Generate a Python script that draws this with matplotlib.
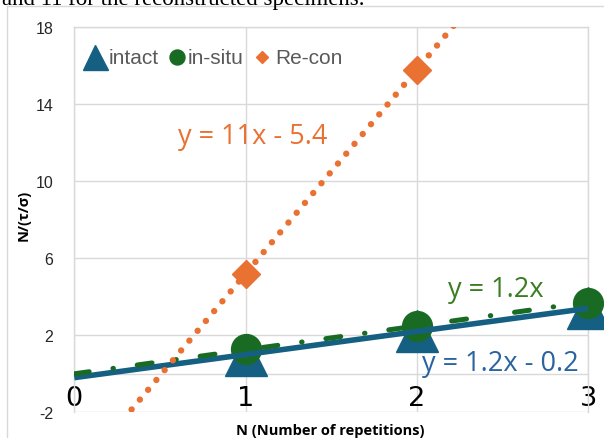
import numpy as np
import matplotlib
matplotlib.use("Agg")
import matplotlib.pyplot as plt
from matplotlib.lines import Line2D

plt.rcParams["axes.unicode_minus"] = False

# ---- data -------------------------------------------------------------
reps = [1, 2, 3]
intact = [1.0, 2.2, 3.4]
in_situ = [1.3, 2.5, 3.7]
recon_reps = [1, 2]
recon = [5.2, 15.8]

x_ticks = [0, 1, 2, 3]
y_ticks = [-2, 2, 6, 10, 14, 18]

# ---- styles -----------------------------------------------------------
BLUE = "#156082"
BLUE_TXT = "#2A64A0"
GREEN = "#196B24"
GREEN_TXT = "#3B7D23"
ORANGE = "#E97132"
GRID = "#D9D9D9"
LABEL_GRAY = "#595959"

W, H, DPI = 604, 439, 100
fig = plt.figure(figsize=(W / DPI, H / DPI), dpi=DPI)
fig.patch.set_facecolor("white")

def px(x, y):
    """pixel position (from top-left) -> figure fraction"""
    return x / W, 1 - y / H

# plot area
left, top = px(74.3, 28.3)
right, bottom = px(588, 413.3)
ax = fig.add_axes([left, bottom, right - left, top - bottom])
ax.set_xlim(0, 3)
ax.set_ylim(-2, 18)

# grid / frame
ax.set_yticks(y_ticks)
ax.set_yticklabels([str(v) for v in y_ticks], fontfamily="Liberation Sans")
ax.set_xticks(x_ticks)
ax.set_xticklabels([str(v) for v in x_ticks], fontfamily="Open Sans")
ax.grid(True, color=GRID, lw=1.0, zorder=0)
ax.set_axisbelow(True)
for side in ("left", "right", "top"):
    ax.spines[side].set_color(GRID)
    ax.spines[side].set_linewidth(1.0)
ax.spines["bottom"].set_position(("data", 0))
ax.spines["bottom"].set_color(GRID)
ax.spines["bottom"].set_linewidth(1.0)

ax.tick_params(axis="both", length=0)
ax.tick_params(axis="y", labelsize=11.5, pad=15, colors="#262626")
ax.tick_params(axis="x", labelsize=19.5, pad=8, colors="black")

# ---- markers ----------------------------------------------------------
ax.plot(reps, intact, ls="none", marker="^", ms=30, color=BLUE,
        clip_on=False, zorder=3)
ax.plot(reps, in_situ, ls="none", marker="o", ms=21.5, color=GREEN,
        clip_on=False, zorder=4)
ax.plot(recon_reps, recon, ls="none", marker="D", ms=14.5, color=ORANGE,
        clip_on=False, zorder=5)

# ---- trendlines -------------------------------------------------------
xs = np.linspace(0, 3, 400)

m_int, b_int = np.polyfit(reps, intact, 1)
ax.plot(xs, m_int * xs + b_int, color=BLUE, lw=4.0, solid_capstyle="butt",
        zorder=6)

xa = np.asarray(reps, float)
m_ins = float(np.sum(xa * np.asarray(in_situ)) / np.sum(xa * xa))  # through origin
ax.plot(xs, m_ins * xs, color=GREEN, lw=3.6, dash_capstyle="round",
        dashes=(3.0, 4.8, 0.1, 4.8), zorder=7)

m_rc, b_rc = np.polyfit(recon_reps, recon, 1)
ax.plot(xs, m_rc * xs + b_rc, color=ORANGE, lw=4.6, dash_capstyle="round",
        dashes=(0.01, 2.0), zorder=8)


def equation(m, b=None):
    s = f"y = {m:.2g}x"
    if b is not None:
        s += f" - {abs(b):.2g}" if b < 0 else f" + {b:.2g}"
    return s


eq_font = dict(fontfamily="Open Sans", fontsize=19.5, ha="center", va="center")
ax.text(1.04, 12.35, equation(m_rc, b_rc), color=ORANGE, zorder=9, **eq_font)
ax.text(2.46, 4.41, equation(m_ins), color=GREEN_TXT, zorder=9, **eq_font)
ax.text(2.49, 0.56, equation(m_int, b_int), color=BLUE_TXT, zorder=9, **eq_font)

# ---- legend -----------------------------------------------------------
leg_y = 58
for (cx, mk, ms, col) in [(95, "^", 18, BLUE), (177, "o", 10.8, GREEN),
                          (262, "D", 6.6, ORANGE)]:
    fx, fy = px(cx, leg_y)
    fig.add_artist(Line2D([fx], [fy], marker=mk, ms=ms, color=col, ls="none"))
for (tx, label) in [(109, "intact"), (188, "in-situ"), (275, "Re-con")]:
    fx, fy = px(tx, leg_y)
    fig.text(fx, fy, label, color=LABEL_GRAY, fontsize=15,
             fontfamily="Liberation Sans", ha="left", va="center")

# ---- axis titles ------------------------------------------------------
fx, fy = px(330, 431)
fig.text(fx, fy, "N (Number of repetitions)", fontsize=10.5, fontweight="bold",
         fontfamily="Open Sans", ha="center", va="center")
fx, fy = px(24, 215)
fig.text(fx, fy, "N/(τ/σ)", fontsize=10.5, fontweight="bold", rotation=90,
         fontfamily="Open Sans", ha="center", va="center")

# ---- chart frame and caption text above -------------------------------
x0, y0 = px(7, 7)
fig.add_artist(Line2D([x0, x0], [0, y0], color=GRID, lw=1.0))
fig.add_artist(Line2D([x0, 1], [y0, y0], color=GRID, lw=1.0))
fx, fy = px(2, 5)
fig.text(fx, fy, "and 11 for the reconstructed specimens.", fontsize=16.5,
         fontfamily="Liberation Serif", ha="left", va="baseline")

fig.savefig("out.png", dpi=DPI)
